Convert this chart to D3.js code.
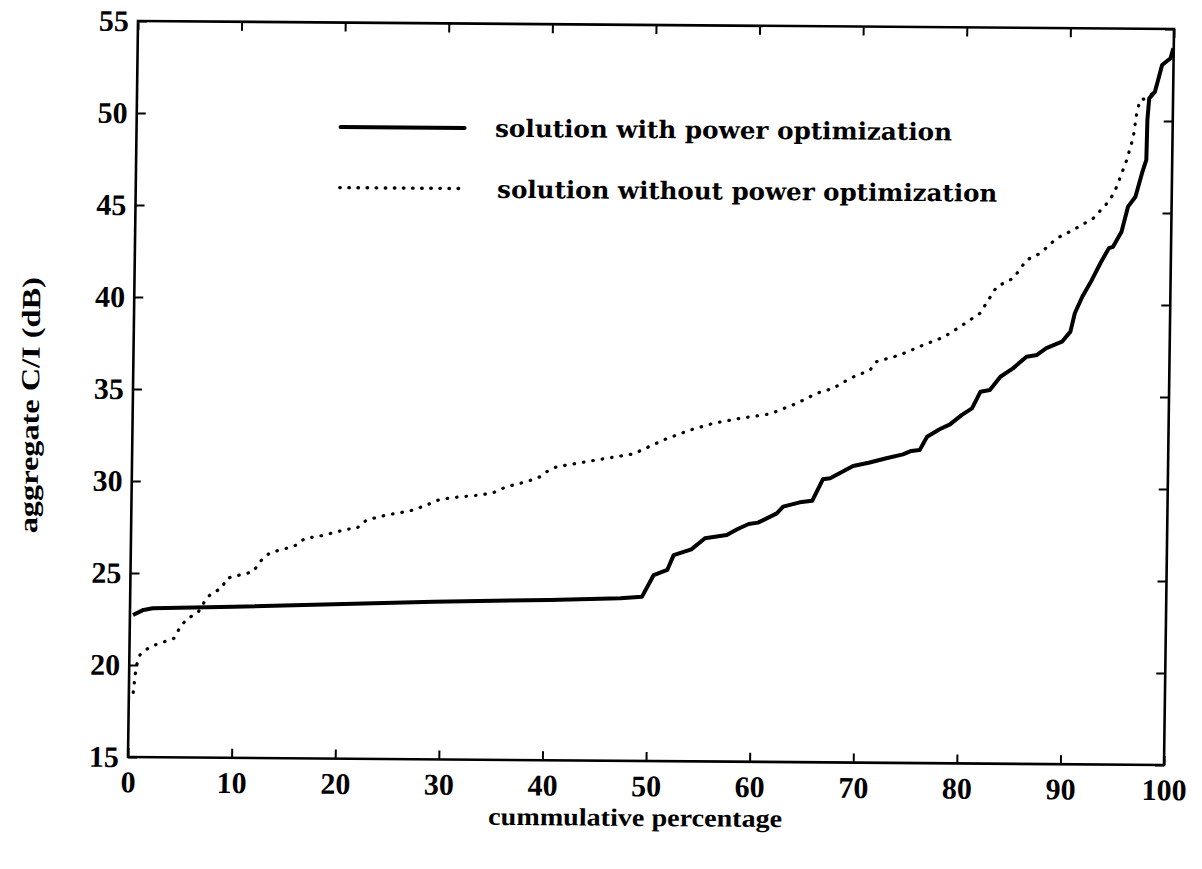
<!DOCTYPE html>
<html>
<head>
<meta charset="utf-8">
<script src="https://cdn.jsdelivr.net/npm/d3@7"></script>
<style>
  body { margin: 0; background: #fff; }
  .tick text { font-family: "Liberation Serif", "Times New Roman", serif; font-weight: bold; font-size: 30px; fill: #000; }
  .tick line { stroke: #000; stroke-width: 2; }
</style>
</head>
<body>
<div id="chart"></div>
<script>
// values: [cumulative %, C/I dB]
const withPowerOpt = [
  [0.3, 22.72], [1.3, 23.0], [2.2, 23.09], [10.0, 23.21], [29.3, 23.57], [40.5, 23.71],
  [47.3, 23.83], [49.4, 23.93], [50.5, 25.11], [51.8, 25.39], [52.4, 26.2], [54.1, 26.52],
  [55.4, 27.13], [57.5, 27.31], [58.5, 27.63], [59.6, 27.92], [60.5, 28.0], [62.3, 28.51],
  [62.9, 28.88], [64.5, 29.12], [65.7, 29.21], [66.7, 30.38], [67.4, 30.44], [69.6, 31.12],
  [71.1, 31.3], [72.8, 31.55], [74.4, 31.77], [75.2, 31.96], [76.0, 32.01], [76.7, 32.74],
  [77.9, 33.15], [78.9, 33.42], [80.0, 33.93], [81.0, 34.3], [81.8, 35.21], [82.7, 35.3],
  [83.7, 36.03], [84.9, 36.49], [86.2, 37.13], [87.2, 37.23], [88.1, 37.6], [89.6, 37.96],
  [90.4, 38.51], [90.8, 39.51], [91.5, 40.41], [92.4, 41.33], [93.2, 42.24], [94.0, 43.06],
  [94.4, 43.14], [95.2, 43.96], [95.8, 45.33], [96.5, 45.87], [97.1, 47.15], [97.5, 47.87],
  [97.55, 50.04], [97.7, 51.22], [98.25, 51.59], [98.9, 53.04], [99.7, 53.41], [99.96, 53.95]
];

const withoutPowerOpt = [
  [0.42, 18.51], [0.57, 19.37], [0.71, 20.0], [1.02, 20.55], [1.97, 21.0], [2.93, 21.19],
  [4.28, 21.47], [4.84, 22.06], [5.48, 22.52], [6.56, 22.88], [7.38, 23.66], [7.86, 23.93],
  [8.82, 24.21], [9.29, 24.75], [10.57, 24.94], [11.85, 25.12], [12.48, 25.67], [13.43, 26.16],
  [15.04, 26.41], [16.0, 26.59], [16.79, 26.96], [17.92, 27.05], [19.52, 27.27], [20.81, 27.47],
  [21.77, 27.52], [22.72, 27.98], [24.65, 28.26], [25.93, 28.39], [27.21, 28.54], [28.5, 28.82],
  [29.77, 29.13], [31.7, 29.28], [33.63, 29.38], [34.91, 29.52], [36.19, 29.85], [38.12, 30.13],
  [39.4, 30.4], [40.04, 30.68], [40.99, 30.95], [44.85, 31.34], [48.37, 31.68], [51.25, 32.45],
  [53.81, 33.0], [56.05, 33.38], [58.62, 33.66], [61.51, 33.91], [64.08, 34.5], [65.99, 35.05],
  [67.59, 35.33], [69.19, 35.88], [71.11, 36.34], [71.74, 36.8], [73.98, 37.17], [76.22, 37.72],
  [78.14, 38.15], [79.74, 38.73], [81.65, 39.47], [83.23, 40.92], [84.82, 41.39], [86.09, 42.39],
  [87.37, 42.75], [88.96, 43.58], [90.55, 44.04], [92.46, 44.68], [94.05, 45.68], [94.68, 46.41],
  [95.61, 47.86], [96.22, 49.13], [96.51, 50.4], [96.82, 51.13], [97.46, 51.22], [98.25, 51.59],
  [98.9, 53.04], [99.7, 53.41], [99.96, 53.95]
];

const xTicks = [0, 10, 20, 30, 40, 50, 60, 70, 80, 90, 100];
const yTicks = [15, 20, 25, 30, 35, 40, 45, 50, 55];
const legendLabels = ["solution with power optimization", "solution without power optimization"];
const xLabel = "cummulative percentage";
const yLabel = "aggregate C/I (dB)";

const W = 1202, H = 869;
const plot = {left: 133, right: 1169, top: 25, bottom: 761};

const svg = d3.select("#chart").append("svg")
    .attr("width", W)
    .attr("height", H);

svg.append("rect").attr("width", W).attr("height", H).attr("fill", "#fff");

// the scan is slightly rotated / skewed, so the whole figure sits in one transformed group
const cx = 651, cy = 393;
const g = svg.append("g")
    .attr("transform", "translate(" + cx + "," + cy + ") matrix(1,0.0077,-0.0136,1,0,0) translate(" + (-cx) + "," + (-cy) + ")");

var x = d3.scaleLinear().domain([0, 100]).range([plot.left, plot.right]);
var y = d3.scaleLinear().domain([15, 55]).range([plot.bottom, plot.top]);

// inward ticks on all four sides (matlab box style)
g.append("g")
    .attr("transform", "translate(0," + plot.bottom + ")")
    .call(d3.axisBottom(x).tickValues(xTicks).tickSizeInner(-9).tickSizeOuter(0).tickPadding(14))
    .call(a => a.select(".domain").remove());
g.append("g")
    .attr("transform", "translate(0," + plot.top + ")")
    .call(d3.axisTop(x).tickValues(xTicks).tickSizeInner(-9).tickSizeOuter(0).tickFormat(""))
    .call(a => a.select(".domain").remove());
g.append("g")
    .attr("transform", "translate(" + plot.left + ",0)")
    .call(d3.axisLeft(y).tickValues(yTicks).tickSizeInner(-9).tickSizeOuter(0).tickPadding(9))
    .call(a => a.select(".domain").remove());
g.append("g")
    .attr("transform", "translate(" + plot.right + ",0)")
    .call(d3.axisRight(y).tickValues(yTicks).tickSizeInner(-9).tickSizeOuter(0).tickFormat(""))
    .call(a => a.select(".domain").remove());

g.selectAll(".tick text").attr("fill", "#000");

// frame
g.append("rect")
    .attr("x", plot.left)
    .attr("y", plot.top)
    .attr("width", plot.right - plot.left)
    .attr("height", plot.bottom - plot.top)
    .attr("fill", "none")
    .attr("stroke", "#000")
    .attr("stroke-width", 2.6);

var line = d3.line()
    .x(d => x(d[0]))
    .y(d => y(d[1]));

g.append("path")
    .datum(withoutPowerOpt)
    .attr("d", line)
    .attr("fill", "none")
    .attr("stroke", "#000")
    .attr("stroke-width", 3.2)
    .attr("stroke-linecap", "round")
    .attr("stroke-dasharray", "0.5 9");

g.append("path")
    .datum(withPowerOpt)
    .attr("d", line)
    .attr("fill", "none")
    .attr("stroke", "#000")
    .attr("stroke-width", 4)
    .attr("stroke-linejoin", "round");

// legend
const legend = [
  {label: legendLabels[0], lineY: 129.5, textX: 491.5, textY: 138, len: 457, dash: null, w: 4},
  {label: legendLabels[1], lineY: 190, textX: 494.5, textY: 199, len: 500, dash: "0.5 8.6", w: 3.4}
];
legend.forEach(function(l) {
    g.append("line")
        .attr("x1", 337).attr("x2", 461)
        .attr("y1", l.lineY).attr("y2", l.lineY)
        .attr("stroke", "#000")
        .attr("stroke-width", l.w)
        .attr("stroke-linecap", "round")
        .attr("stroke-dasharray", l.dash);
    g.append("text")
        .attr("x", l.textX)
        .attr("y", l.textY)
        .attr("textLength", l.len)
        .attr("lengthAdjust", "spacingAndGlyphs")
        .style("font-family", "'DejaVu Serif', serif")
        .style("font-weight", "bold")
        .style("font-size", "24px")
        .text(l.label);
});

// axis titles
g.append("text")
    .attr("x", 641)
    .attr("y", 826)
    .attr("text-anchor", "middle")
    .attr("textLength", 294)
    .attr("lengthAdjust", "spacingAndGlyphs")
    .style("font-family", "'Liberation Serif', serif")
    .style("font-weight", "bold")
    .style("font-size", "25px")
    .text(xLabel);

g.append("text")
    .attr("transform", "translate(39,410) rotate(-90)")
    .attr("text-anchor", "middle")
    .attr("textLength", 256)
    .attr("lengthAdjust", "spacingAndGlyphs")
    .style("font-family", "'Liberation Serif', serif")
    .style("font-weight", "bold")
    .style("font-size", "26px")
    .text(yLabel);
</script>
</body>
</html>
